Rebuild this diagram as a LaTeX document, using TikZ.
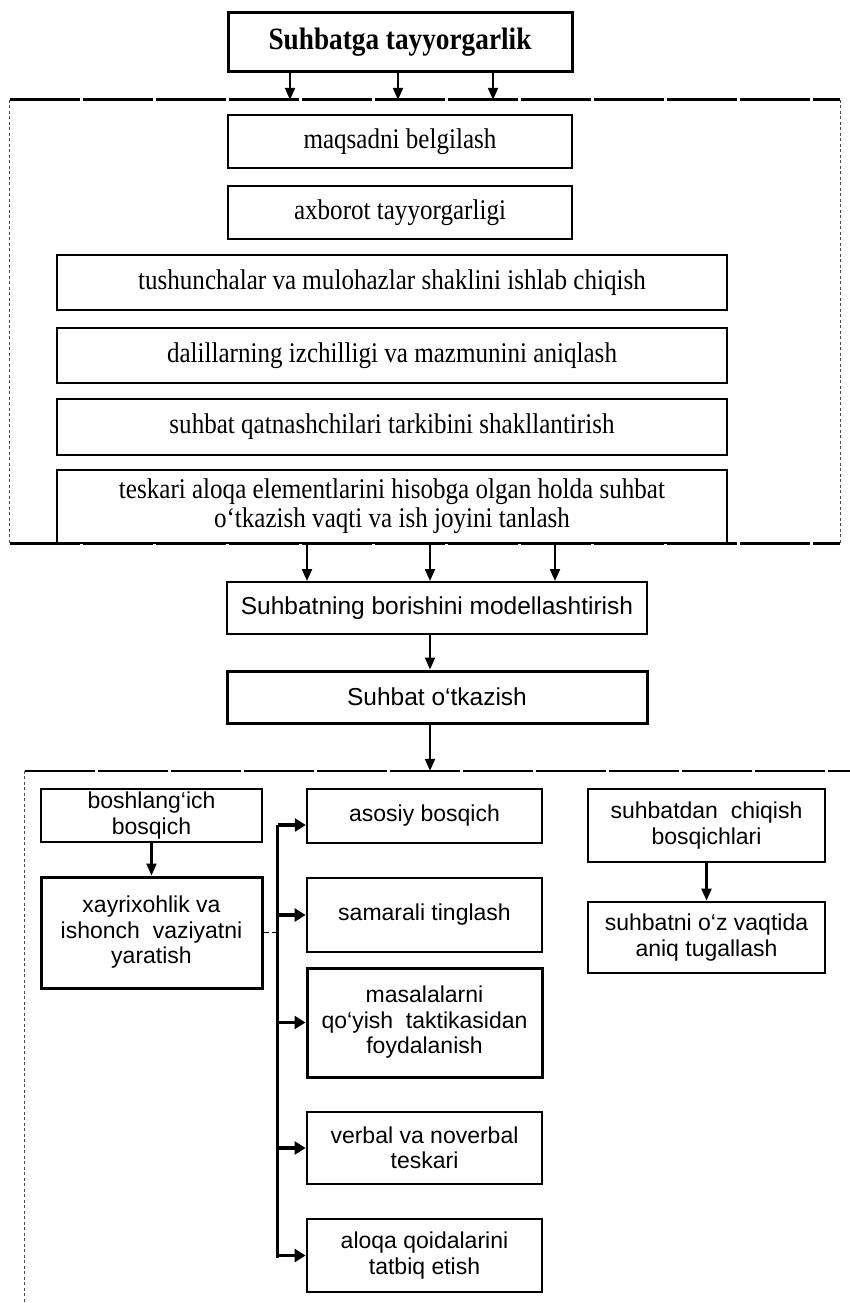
\documentclass[tikz,border=0pt]{standalone}
\usepackage{fontspec}
\setmainfont{Liberation Serif}[FakeStretch=0.88]
\setsansfont{Liberation Sans}
\usetikzlibrary{arrows.meta}

\begin{document}
\begin{tikzpicture}[x=1pt,y=-1pt,
  box/.style={draw, line width=2.8pt, inner sep=0pt, align=center,
              font=\fontsize{28.5}{29}\selectfont},
  sbox/.style={box, font=\sffamily\fontsize{23}{25.5}\selectfont},
  arr/.style={line width=2.2pt, -{Triangle[length=12pt,width=10pt]}},
  sidearr/.style={line width=3.4pt, -{Triangle[length=11pt,width=13pt]}},
  framehead/.style={line width=2.6pt, dash pattern=on 70pt off 3pt},
  frameside/.style={line width=0.9pt, black!70, dash pattern=on 3pt off 2.5pt}]
\useasboundingbox (0,0) rectangle (850,1303);

% --- preparation stage ---
\node[box, line width=3pt, minimum width=344, minimum height=59,
      font=\bfseries\fontsize{31}{32}\selectfont] (title) at (400,42.5) {Suhbatga tayyorgarlik};

\node[inner sep=0pt, minimum width=830, minimum height=443] (prep) at (425,321.5) {};
\draw[framehead] (prep.north west) -- (prep.north east);
\draw[framehead] (prep.south west) -- (prep.south east);
\draw[frameside] (prep.north west) -- (prep.south west);
\draw[frameside] (prep.north east) -- (prep.south east);

\node[box, line width=2.4pt, minimum width=344, minimum height=53] (goal) at (400,141.5) {maqsadni belgilash};
\node[box, minimum width=344, minimum height=53] (info) at (400,212.5) {axborot tayyorgarligi};
\node[box, minimum width=670, minimum height=55] (forms) at (392,282.5) {tushunchalar va mulohazlar shaklini ishlab chiqish};
\node[box, minimum width=670, minimum height=55] (args) at (392,355.5) {dalillarning izchilligi va mazmunini aniqlash};
\node[box, minimum width=670, minimum height=56] (part) at (392,427) {suhbat qatnashchilari tarkibini shakllantirish};
\node[box, minimum width=670, minimum height=73] (place) at (392,506.5)
  {teskari aloqa elementlarini hisobga olgan holda suhbat\\o‘tkazish vaqti va ish joyini tanlash};

\foreach \dx/\nm in {-110/a1,-2/a2,93/a3}
  \path (title.south) ++(\dx,0) coordinate (\nm);
\foreach \nm in {a1,a2,a3}
  \draw[arr] (\nm) -- (\nm |- prep.north);

% --- modelling and conducting ---
\node[sbox, line width=2pt, minimum width=420, minimum height=52,
      font=\sffamily\fontsize{24.5}{26}\selectfont] (model) at (437,608)
  {Suhbatning borishini modellashtirish};
\node[sbox, line width=3pt, minimum width=420, minimum height=52,
      font=\sffamily\fontsize{24.5}{26}\selectfont] (conduct) at (437,697)
  {Suhbat o‘tkazish};

\foreach \xx/\nm in {307/b1,430/b2,555/b3}
  \path (\xx,543) coordinate (\nm);
\foreach \nm in {b1,b2,b3}
  \draw[arr] (\nm |- prep.south) -- (\nm |- model.north);

\path (430,0) coordinate (mid);
\draw[arr] (mid |- model.south) -- (mid |- conduct.north);

% --- conversation stages ---
\node[inner sep=0pt, minimum width=825, minimum height=532] (talk) at (437.5,1037) {};
\draw[framehead] (talk.north west) -- (talk.north east);
\draw[frameside] (talk.north west) -- (talk.south west);
\draw[arr] (mid |- conduct.south) -- (mid |- talk.north);

\node[sbox, minimum width=221, minimum height=53] (start) at (151.5,815.5) {boshlang‘ich\\bosqich};
\node[sbox, line width=3pt, minimum width=221, minimum height=111] (trust) at (151.5,932.5)
  {xayrixohlik va\\ishonch\ \ vaziyatni\\yaratish};
\draw[arr] (start) -- (trust);

\node[sbox, line width=2.4pt, minimum width=235, minimum height=54] (main) at (424.5,816) {asosiy bosqich};
\node[sbox, minimum width=235, minimum height=74] (listen) at (424.5,915) {samarali tinglash};
\node[sbox, line width=3pt, minimum width=235, minimum height=109] (tactic) at (424.5,1022.5)
  {masalalarni\\qo‘yish\ \ taktikasidan\\foydalanish};
\node[sbox, minimum width=235, minimum height=72] (verbal) at (424.5,1148) {verbal va noverbal\\teskari};
\node[sbox, minimum width=235, minimum height=73] (rules) at (424.5,1255.5) {aloqa qoidalarini\\tatbiq etish};

\path (trust.east) ++(14,0) coordinate (hub);
\path ([yshift=-9pt]main.west) coordinate (mainin);
\draw[line width=2.2pt] (hub |- mainin) -- ([yshift=-2pt]hub |- rules.west);
\draw[line width=1.8pt, dash pattern=on 5pt off 3pt] (trust.east) -- (hub);
\draw[sidearr] (hub |- mainin) -- (mainin);
\foreach \nm in {listen,tactic,verbal,rules}
  \draw[sidearr] (hub |- \nm.west) -- (\nm.west);

\node[sbox, minimum width=237, minimum height=73] (exit) at (706.5,825.5) {suhbatdan\ \ chiqish\\bosqichlari};
\node[sbox, minimum width=237, minimum height=71] (finish) at (706.5,937.5) {suhbatni o‘z vaqtida\\aniq tugallash};
\draw[arr] (exit) -- (finish);
\end{tikzpicture}
\end{document}
